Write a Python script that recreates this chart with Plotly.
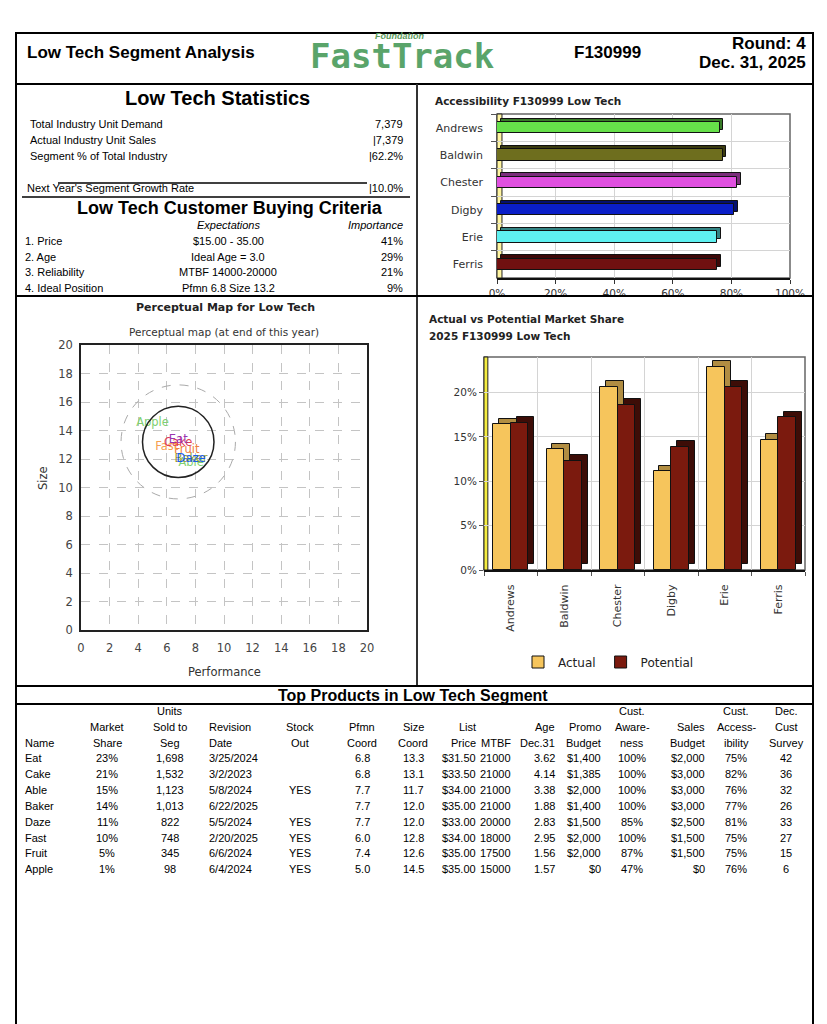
import plotly.graph_objects as go

# ---------------- data ----------------
companies = ["Andrews", "Baldwin", "Chester", "Digby", "Erie", "Ferris"]
accessibility_pct = [76, 77, 82, 81, 75, 75]
company_colors = ["#66e04a", "#6e6e1e", "#e050e0", "#0a1ec8", "#5ef0f0", "#701010"]

actual_share = [16.4, 13.6, 20.6, 11.1, 22.9, 14.7]
potential_share = [16.6, 12.3, 18.6, 13.9, 20.6, 17.2]

stats_labels = ["Total Industry Unit Demand", "Actual Industry Unit Sales", "Segment % of Total Industry"]
stats_values = ["7,379", "|7,379", "|62.2%"]
growth_label = "Next Year's Segment Growth Rate"
growth_value = "|10.0%"

criteria = ["1. Price", "2. Age", "3. Reliability", "4. Ideal Position"]
expectations = ["$15.00 - 35.00", "Ideal Age = 3.0", "MTBF 14000-20000", "Pfmn 6.8 Size 13.2"]
importance = ["41%", "29%", "21%", "9%"]

ideal_pfmn = 6.8
ideal_size = 13.2
fine_cut_radius = 2.5
rough_cut_radius = 4.0

names = ["Eat", "Cake", "Able", "Baker", "Daze", "Fast", "Fruit", "Apple"]
market_share = [23, 21, 15, 14, 11, 10, 5, 1]
units_sold = [1698, 1532, 1123, 1013, 822, 748, 345, 98]
revision_date = ["3/25/2024", "3/2/2023", "5/8/2024", "6/22/2025", "5/5/2024", "2/20/2025", "6/6/2024", "6/4/2024"]
stock_out = ["", "", "YES", "", "YES", "YES", "YES", "YES"]
pfmn_coord = [6.8, 6.8, 7.7, 7.7, 7.7, 6.0, 7.4, 5.0]
size_coord = [13.3, 13.1, 11.7, 12.0, 12.0, 12.8, 12.6, 14.5]
list_price = [31.50, 33.50, 34.00, 35.00, 33.00, 34.00, 35.00, 35.00]
mtbf = [21000, 21000, 21000, 21000, 20000, 18000, 17500, 15000]
age_dec31 = [3.62, 4.14, 3.38, 1.88, 2.83, 2.95, 1.56, 1.57]
promo_budget = [1400, 1385, 2000, 1400, 1500, 2000, 2000, 0]
awareness = [100, 100, 100, 100, 85, 100, 87, 47]
sales_budget = [2000, 3000, 3000, 3000, 2500, 1500, 1500, 0]
cust_access = [75, 82, 76, 77, 81, 75, 75, 76]
cust_survey = [42, 36, 32, 26, 33, 27, 15, 6]
product_colors = {"Eat": "#9a35b0", "Cake": "#e03a55", "Able": "#80d070", "Baker": "#9a9a30",
                  "Daze": "#1a5cf0", "Fast": "#f5a050", "Fruit": "#f08040", "Apple": "#80d070"}

# ---------------- helpers ----------------
W, H = 827, 1024
FONT = "Liberation Sans, Arial, sans-serif"
CFONT = "DejaVu Sans, Verdana, sans-serif"


def fx(px):
    return px / W


def fy(py):
    return 1 - py / H


annotations = []
shapes = []


def A(text, x, y, size=11, anchor="left", bold=False, italic=False, color="#000", family=FONT):
    if bold:
        text = f"<b>{text}</b>"
    if italic:
        text = f"<i>{text}</i>"
    annotations.append(dict(text=text, x=fx(x), y=fy(y), xref="paper", yref="paper",
                            xanchor=anchor, yanchor="middle", showarrow=False,
                            font=dict(size=size, color=color, family=family)))


def L(x0, y0, x1, y1, width=1.5, color="#000"):
    shapes.append(dict(type="line", xref="paper", yref="paper", x0=fx(x0), y0=fy(y0),
                       x1=fx(x1), y1=fy(y1), line=dict(color=color, width=width)))


def darken(hexc, f=0.55):
    hexc = hexc.lstrip("#")
    r, g, b = (int(hexc[i:i + 2], 16) for i in (0, 2, 4))
    return "#%02x%02x%02x" % (int(r * f), int(g * f), int(b * f))


fig = go.Figure()

# ---------------- frame lines ----------------
shapes.append(dict(type="rect", xref="paper", yref="paper", x0=fx(16), x1=fx(813), y0=fy(1030), y1=fy(33),
                   line=dict(color="#000", width=2)))
L(16, 84, 813, 84, 2)
L(417, 84, 417, 686, 2, "#333")
L(16, 296, 813, 296, 2)
L(16, 686, 813, 686, 2)
L(16, 704, 813, 704, 2)
L(58, 183, 367, 183, 1.5)
L(22, 197, 410, 197, 1.5)

# ---------------- header ----------------
A("Low Tech Segment Analysis", 25, 52, 17, bold=True)
A("Foundation", 399, 36, 9, anchor="center", color="#5a9a5a", bold=True, italic=True)
A("FastTrack", 402, 56, 34, anchor="center", bold=True, color="#5aa46a", family="DejaVu Sans Mono, monospace")
A("F130999", 607, 52, 17, anchor="center", bold=True)
A("Round: 4", 808, 43, 17, anchor="right", bold=True)
A("Dec. 31, 2025", 808, 62, 17, anchor="right", bold=True)

# ---------------- statistics panel ----------------
A("Low Tech Statistics", 218, 98, 20, anchor="center", bold=True)
for i, (lab, val) in enumerate(zip(stats_labels, stats_values)):
    yy = 124 + i * 16
    A(lab, 28, yy, 11)
    A(val, 405, yy, 11, anchor="right")
A(growth_label, 25, 188, 11)
A(growth_value, 405, 188, 11, anchor="right")
A("Low Tech Customer Buying Criteria", 230, 208, 18, anchor="center", bold=True)
A("Expectations", 228, 225, 11, anchor="center", italic=True)
A("Importance", 405, 225, 11, anchor="right", italic=True)
for i in range(len(criteria)):
    yy = 241 + i * 15.7
    A(criteria[i], 23, yy, 11)
    A(expectations[i], 228, yy, 11, anchor="center")
    A(importance[i], 405, yy, 11, anchor="right")

# ---------------- accessibility chart ----------------
A("Accessibility F130999 Low Tech", 433, 101, 10.5, bold=True, color="#222", family=CFONT)
fig.add_trace(go.Bar(y=companies, x=accessibility_pct, base=1.3, orientation="h", width=0.42, offset=-0.33,
                     marker=dict(color=[darken(c) for c in company_colors], line=dict(color="#111", width=1)),
                     showlegend=False, hoverinfo="skip", xaxis="x", yaxis="y"))
fig.add_trace(go.Bar(y=companies, x=accessibility_pct, orientation="h", width=0.42, offset=-0.21,
                     marker=dict(color=company_colors, line=dict(color="#111", width=1)),
                     showlegend=False, xaxis="x", yaxis="y"))
shapes.append(dict(type="rect", xref="x domain", yref="y domain", x0=0, x1=1, y0=0, y1=1,
                   line=dict(color="#666", width=1.5), layer="below"))
shapes.append(dict(type="rect", xref="x domain", yref="y domain", x0=0, x1=0.017, y0=0, y1=1,
                   fillcolor="#fff5a0", line=dict(color="#222", width=1), layer="below"))

# ---------------- perceptual map ----------------
A("Perceptual Map for Low Tech", 225, 307, 11, anchor="center", bold=True, color="#222", family=CFONT)
A("Perceptual map (at end of this year)", 224, 332, 10.5, anchor="center", color="#333", family=CFONT)
A("Performance", 224, 672, 11.5, anchor="center", color="#333", family=CFONT)
annotations.append(dict(text="Size", x=fx(43), y=fy(478), xref="paper", yref="paper", showarrow=False,
                        textangle=-90, xanchor="center", yanchor="middle",
                        font=dict(size=11.5, color="#333", family=CFONT)))
order = ["Apple", "Able", "Baker", "Fruit", "Fast", "Cake", "Eat", "Daze"]
idx = [names.index(n) for n in order]
fig.add_trace(go.Scatter(x=[pfmn_coord[i] for i in idx], y=[size_coord[i] for i in idx],
                         text=[names[i] for i in idx], mode="text", textposition="middle center",
                         textfont=dict(size=11.5, family=CFONT, color=[product_colors[names[i]] for i in idx]),
                         showlegend=False, xaxis="x2", yaxis="y2"))
shapes.append(dict(type="circle", xref="x2", yref="y2",
                   x0=ideal_pfmn - rough_cut_radius, x1=ideal_pfmn + rough_cut_radius,
                   y0=ideal_size - rough_cut_radius, y1=ideal_size + rough_cut_radius,
                   line=dict(color="#aaaaaa", width=1, dash="dash")))
shapes.append(dict(type="circle", xref="x2", yref="y2",
                   x0=ideal_pfmn - fine_cut_radius, x1=ideal_pfmn + fine_cut_radius,
                   y0=ideal_size - fine_cut_radius, y1=ideal_size + fine_cut_radius,
                   line=dict(color="#222", width=1.5)))

# ---------------- actual vs potential ----------------
A("Actual vs Potential Market Share", 427, 319, 10.5, bold=True, color="#222", family=CFONT)
A("2025 F130999 Low Tech", 427, 336, 10.5, bold=True, color="#222", family=CFONT)
act_c, pot_c = "#f6c55c", "#7b1a0e"
fig.add_trace(go.Bar(x=companies, y=actual_share, base=0.65, width=0.33, offset=-0.22,
                     marker=dict(color=darken(act_c, 0.72), line=dict(color="#111", width=1)),
                     showlegend=False, hoverinfo="skip", xaxis="x3", yaxis="y3"))
fig.add_trace(go.Bar(x=companies, y=actual_share, width=0.33, offset=-0.33, name="Actual",
                     marker=dict(color=act_c, line=dict(color="#111", width=1)),
                     xaxis="x3", yaxis="y3"))
fig.add_trace(go.Bar(x=companies, y=potential_share, base=0.65, width=0.33, offset=0.11,
                     marker=dict(color=darken(pot_c, 0.5), line=dict(color="#111", width=1)),
                     showlegend=False, hoverinfo="skip", xaxis="x3", yaxis="y3"))
fig.add_trace(go.Bar(x=companies, y=potential_share, width=0.33, offset=0.0, name="Potential",
                     marker=dict(color=pot_c, line=dict(color="#111", width=1)),
                     xaxis="x3", yaxis="y3"))
shapes.append(dict(type="rect", xref="x3 domain", yref="y3 domain", x0=0, x1=1, y0=0, y1=1,
                   line=dict(color="#666", width=1.5), layer="below"))
shapes.append(dict(type="rect", xref="x3 domain", yref="y3 domain", x0=0, x1=0.012, y0=0, y1=1,
                   fillcolor="#f4ec40", line=dict(color="#222", width=1), layer="below"))

# ---------------- table ----------------
A("Top Products in Low Tech Segment", 413, 695, 16, anchor="center", bold=True)
cols = [
    (23, "left", ["", "", "Name"], names),
    (107, "center", ["", "Market", "Share"], [f"{v}%" for v in market_share]),
    (170, "center", ["Units", "Sold to", "Seg"], [f"{v:,}" for v in units_sold]),
    (207, "left", ["", "Revision", "Date"], revision_date),
    (300, "center", ["", "Stock", "Out"], stock_out),
    (362, "center", ["", "Pfmn", "Coord"], [f"{v:.1f}" for v in pfmn_coord]),
    (413, "center", ["", "Size", "Coord"], [f"{v:.1f}" for v in size_coord]),
    (478, "right", ["", "List", "Price"], [f"${v:.2f}" for v in list_price]),
    (513, "right", ["", "", "MTBF"], [str(v) for v in mtbf]),
    (557, "right", ["", "Age", "Dec.31"], [f"{v:.2f}" for v in age_dec31]),
    (603, "right", ["", "Promo", "Budget"], [f"${v:,}" for v in promo_budget]),
    (632, "center", ["Cust.", "Aware-", "ness"], [f"{v}%" for v in awareness]),
    (707, "right", ["", "Sales", "Budget"], [f"${v:,}" for v in sales_budget]),
    (736, "center", ["Cust.", "Access-", "ibility"], [f"{v}%" for v in cust_access]),
    (786, "center", ["Dec.", "Cust", "Survey"], [str(v) for v in cust_survey]),
]
for x, anc, heads, vals in cols:
    for j, h in enumerate(heads):
        if h:
            A(h, x, 711 + j * 16, 11, anchor=anc)
    for i, v in enumerate(vals):
        if v:
            A(v, x, 758 + i * 15.9, 11, anchor=anc)

# ---------------- layout ----------------
tick_font = dict(size=10.5, color="#333", family=CFONT)
fig.update_layout(
    width=W, height=H, margin=dict(l=0, r=0, t=0, b=0, pad=0, autoexpand=False),
    paper_bgcolor="white", plot_bgcolor="white",
    barmode="overlay", bargap=0,
    annotations=annotations, shapes=shapes,
    legend=dict(orientation="h", x=fx(518), y=fy(662), xanchor="left", yanchor="middle",
                font=dict(size=12, color="#222", family=CFONT), itemwidth=30,
                bgcolor="rgba(0,0,0,0)", traceorder="normal"),
    xaxis=dict(domain=[fx(497), fx(790)], range=[0, 100], dtick=20, ticksuffix="%", showgrid=True,
               gridcolor="#d4d4d4", zeroline=False, showline=True, linecolor="#111", linewidth=2,
               ticks="outside", ticklen=4, tickcolor="#333", tickfont=tick_font, anchor="y",
               automargin=False, fixedrange=True),
    yaxis=dict(domain=[fy(278), fy(114)], type="category", categoryarray=companies, autorange="reversed",
               tickson="boundaries", showgrid=True, gridcolor="#d4d4d4", showline=False,
               ticks="outside", ticklen=5, tickcolor="#555", ticklabelstandoff=13,
               tickfont=dict(size=11, color="#333", family=CFONT), anchor="x", automargin=False,
               fixedrange=True),
    xaxis2=dict(domain=[fx(81), fx(367)], range=[0, 20], dtick=2, showgrid=True, gridcolor="#c4c4c4",
                griddash="dash", zeroline=False, showline=True, mirror=True, linecolor="#222", linewidth=1.5,
                tickfont=dict(size=11.5, color="#444", family=CFONT), anchor="y2", ticks="",
                ticklabelstandoff=6, automargin=False),
    yaxis2=dict(domain=[fy(630), fy(345)], range=[0, 20], dtick=2, showgrid=True, gridcolor="#c4c4c4",
                griddash="dash", zeroline=False, showline=True, mirror=True, linecolor="#222", linewidth=1.5,
                tickfont=dict(size=11.5, color="#444", family=CFONT), anchor="x2", ticks="",
                ticklabelstandoff=4, automargin=False),
    xaxis3=dict(domain=[fx(484), fx(805)], type="category", categoryarray=companies, tickangle=-90,
                tickson="boundaries", showgrid=True, gridcolor="#d4d4d4", showline=True, linecolor="#111",
                linewidth=2, ticks="outside", ticklen=4, tickcolor="#555", ticklabelstandoff=8,
                tickfont=dict(size=11, color="#333", family=CFONT), anchor="y3", automargin=False),
    yaxis3=dict(domain=[fy(570), fy(357)], range=[0, 24], dtick=5, ticksuffix="%", showgrid=True,
                gridcolor="#d4d4d4", zeroline=False, showline=False, ticks="outside", ticklen=4,
                tickcolor="#555", tickfont=tick_font, anchor="x3", automargin=False),
)

fig.write_html("out.html", config={"displayModeBar": False},
               post_script="document.body.style.margin='0px';document.body.style.overflow='hidden';")
